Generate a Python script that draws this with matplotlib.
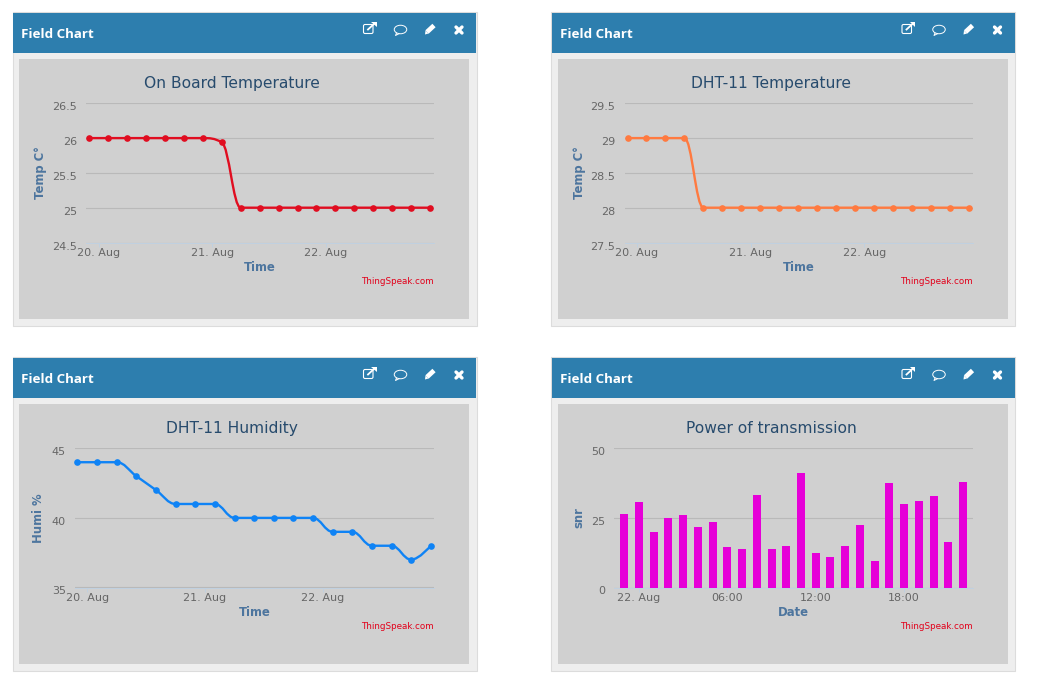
import matplotlib
matplotlib.use('Agg')
import matplotlib.pyplot as plt
import matplotlib.patches as mpatches
from matplotlib.path import Path
from matplotlib.transforms import ScaledTranslation

W, H = 1041, 689
DPI = 100

C_HEADER = '#2d7eae'
C_CARD = '#eeeeee'
C_BORDER = '#dcdcdc'
C_PLOT = '#d0d0d0'
C_GRID = '#b9b9b9'
C_AXIS = '#c0d0e0'
C_TICK = '#666666'
C_LABEL = '#4d759e'
C_TITLE = '#274b6d'
C_CREDIT = '#e2001a'

# hours counted from 20 Aug 00:00
sensor_hours = [-2, 2, 6, 10, 14, 18, 22, 26, 30, 34, 38, 42, 46, 50, 54, 58, 62, 66, 70]
day_ticks = [0, 24, 48]
day_labels = ['20. Aug', '21. Aug', '22. Aug']

board_temp = [26, 26, 26, 26, 26, 26, 26, 25.94, 25, 25, 25, 25, 25, 25, 25, 25, 25, 25, 25]
board_yticks = [24.5, 25, 25.5, 26, 26.5]
board_ylabels = ['24.5', '25', '25.5', '26', '26.5']

dht_temp = [29, 29, 29, 29, 28, 28, 28, 28, 28, 28, 28, 28, 28, 28, 28, 28, 28, 28, 28]
dht_yticks = [27.5, 28, 28.5, 29, 29.5]
dht_ylabels = ['27.5', '28', '28.5', '29', '29.5']

humidity = [44, 44, 44, 43, 42, 41, 41, 41, 40, 40, 40, 40, 40, 39, 39, 38, 38, 37, 38]
humi_yticks = [35, 40, 45]
humi_ylabels = ['35', '40', '45']

# hours counted from 22 Aug 00:00
snr_hours = [-1, 0, 1, 2, 3, 4, 5, 6, 7, 8, 9, 10, 11, 12, 13, 14, 15, 16, 17, 18, 19, 20, 21, 22]
snr = [26.3, 30.6, 19.8, 24.9, 26.0, 21.6, 23.4, 14.4, 13.7, 33.2, 13.7, 14.8,
       41.1, 12.3, 10.8, 14.8, 22.4, 9.4, 37.5, 29.9, 31.0, 32.8, 16.2, 37.9]
snr_ticks = [0, 6, 12, 18]
snr_tick_labels = ['22. Aug', '06:00', '12:00', '18:00']
snr_yticks = [0, 25, 50]
snr_ylabels = ['0', '25', '50']


def spline_path(xs, ys):
    """Same bezier smoothing as a Highcharts spline series."""
    n = len(xs)
    left = [(x, y) for x, y in zip(xs, ys)]
    right = [(x, y) for x, y in zip(xs, ys)]
    for i in range(1, n - 1):
        x, y = xs[i], ys[i]
        lx, ly = xs[i - 1], ys[i - 1]
        nx, ny = xs[i + 1], ys[i + 1]
        lcx, lcy = (1.5 * x + lx) / 2.5, (1.5 * y + ly) / 2.5
        rcx, rcy = (1.5 * x + nx) / 2.5, (1.5 * y + ny) / 2.5
        corr = (rcy - lcy) * (rcx - x) / (rcx - lcx) + y - rcy
        lcy += corr
        rcy += corr
        if lcy > ly and lcy > y:
            lcy = max(ly, y)
            rcy = 2 * y - lcy
        elif lcy < ly and lcy < y:
            lcy = min(ly, y)
            rcy = 2 * y - lcy
        if rcy > ny and rcy > y:
            rcy = max(ny, y)
            lcy = 2 * y - rcy
        elif rcy < ny and rcy < y:
            rcy = min(ny, y)
            lcy = 2 * y - rcy
        left[i] = (lcx, lcy)
        right[i] = (rcx, rcy)
    verts = [(xs[0], ys[0])]
    codes = [Path.MOVETO]
    for i in range(1, n):
        verts += [right[i - 1], left[i], (xs[i], ys[i])]
        codes += [Path.CURVE4] * 3
    return Path(verts, codes)


def draw_icons(bg, dx, dy):
    # external link
    bg.add_patch(mpatches.FancyBboxPatch((363.5 + dx, 24.5 + dy), 9.5, 9, boxstyle='round,pad=0,rounding_size=1.5',
                                         fc='none', ec='white', lw=0.8))
    bg.plot([368 + dx, 374.5 + dx], [29.5 + dy, 23.5 + dy], color='white', lw=1.3)
    bg.add_patch(mpatches.Polygon([(371 + dx, 22 + dy), (376.5 + dx, 22 + dy), (376.5 + dx, 27 + dy)], fc='white', ec='none'))
    # comment
    bg.add_patch(mpatches.Ellipse((400.5 + dx, 29.5 + dy), 12.5, 8.5, fc='none', ec='white', lw=0.7))
    bg.plot([396.5 + dx, 395.5 + dx, 399 + dx], [33 + dy, 35.5 + dy, 33.7 + dy], color='white', lw=0.7)
    # pencil
    bg.plot([427 + dx, 434 + dx], [32 + dy, 25.5 + dy], color='white', lw=3.4, solid_capstyle='butt')
    bg.add_patch(mpatches.Polygon([(425.5 + dx, 30.5 + dy), (428.5 + dx, 33.5 + dy), (425 + dx, 34.5 + dy)], fc='white', ec='none'))
    # close
    bg.plot([456 + dx, 462 + dx], [27 + dy, 33 + dy], color='white', lw=2.4, solid_capstyle='round')
    bg.plot([456 + dx, 462 + dx], [33 + dy, 27 + dy], color='white', lw=2.4, solid_capstyle='round')


def draw_card(bg, dx, dy):
    bg.add_patch(mpatches.Rectangle((12.5 + dx, 12 + dy), 464, 313.5, fc=C_CARD, ec=C_BORDER, lw=0.8))
    bg.add_patch(mpatches.Rectangle((13 + dx, 13 + dy), 463, 40, fc=C_HEADER, ec='none'))
    bg.add_patch(mpatches.Rectangle((19 + dx, 59 + dy), 450, 260, fc=C_PLOT, ec='none'))
    bg.text(21 + dx, 34.5 + dy, 'Field Chart', color='white', fontsize=9.6, fontweight='bold',
            family='Open Sans', ha='left', va='center')
    draw_icons(bg, dx, dy)


def make_axes(fig, box, xlim, ylim, title, title_cx, xlabel, ylabel, ylabel_x,
              xticks, xticklabels, yticks, yticklabels):
    left, top, right, bottom = box
    ax = fig.add_axes([left / W, 1 - bottom / H, (right - left) / W, (bottom - top) / H])
    ax.patch.set_alpha(0)
    ax.set_xlim(*xlim)
    ax.set_ylim(*ylim)
    for name in ('top', 'left', 'right'):
        ax.spines[name].set_visible(False)
    ax.spines['bottom'].set_color(C_AXIS)
    ax.spines['bottom'].set_linewidth(0.72)
    ax.set_axisbelow(True)
    ax.yaxis.grid(True, color=C_GRID, lw=0.8)
    ax.set_xticks(xticks)
    ax.set_xticklabels(xticklabels)
    ax.set_yticks(yticks)
    ax.set_yticklabels(yticklabels)
    ax.tick_params(axis='x', length=3, width=0.7, color=C_AXIS, labelcolor=C_TICK, labelsize=8, pad=0.8)
    ax.tick_params(axis='y', length=0, labelcolor=C_TICK, labelsize=8, pad=6.5)
    shift = ScaledTranslation(0, -3 / DPI, fig.dpi_scale_trans)
    for lab in ax.get_yticklabels():
        lab.set_transform(lab.get_transform() + shift)

    w, h = right - left, bottom - top
    ax.set_title(title, x=(title_cx - left) / w, y=1 + 20 / h, pad=0,
                 color=C_TITLE, fontsize=11.2, va='center', ha='center')
    ax.set_xlabel(xlabel, color=C_LABEL, fontsize=8.4, fontweight='bold', va='center')
    ax.xaxis.set_label_coords(0.5, -25 / h)
    ax.set_ylabel(ylabel, color=C_LABEL, fontsize=8.4, fontweight='bold', va='center')
    ax.yaxis.set_label_coords((ylabel_x - left) / w, 0.5)
    ax.text(1, -39 / h, 'ThingSpeak.com', transform=ax.transAxes, color=C_CREDIT,
            fontsize=6.3, ha='right', va='center')
    return ax


def draw_spline(ax, xs, ys, color):
    ax.add_patch(mpatches.PathPatch(spline_path(xs, ys), fc='none', ec=color, lw=1.7, zorder=3))
    ax.plot(xs, ys, ls='none', marker='o', ms=4.8, mfc=color, mec=color, mew=0, zorder=4, clip_on=False)


fig = plt.figure(figsize=(W / DPI, H / DPI), dpi=DPI, facecolor='white')
bg = fig.add_axes([0, 0, 1, 1])
bg.set_xlim(0, W)
bg.set_ylim(H, 0)
bg.axis('off')

draw_card(bg, 0, 0)
draw_card(bg, 538.5, 0)
draw_card(bg, 0, 345)
draw_card(bg, 538.5, 345)

ax1 = make_axes(fig, (86, 103.3, 434, 242.5), (-2.64, 70.8), (24.5, 26.5),
                'On Board Temperature', 232, 'Time', 'Temp C°', 40,
                day_ticks, day_labels, board_yticks, board_ylabels)
draw_spline(ax1, sensor_hours, board_temp, '#e00d20')

ax2 = make_axes(fig, (624.5, 103.3, 972.5, 242.5), (-2.64, 70.8), (27.5, 29.5),
                'DHT-11 Temperature', 771, 'Time', 'Temp C°', 579,
                day_ticks, day_labels, dht_yticks, dht_ylabels)
draw_spline(ax2, sensor_hours, dht_temp, '#ff7a40')

ax3 = make_axes(fig, (75, 448.3, 434, 587.5), (-2.5, 70.65), (35, 45),
                'DHT-11 Humidity', 232, 'Time', 'Humi %', 39,
                day_ticks, day_labels, humi_yticks, humi_ylabels)
draw_spline(ax3, sensor_hours, humidity, '#0f83f5')

ax4 = make_axes(fig, (614, 448.3, 973, 587.5), (-1.7, 22.68), (0, 50),
                'Power of transmission', 771, 'Date', 'snr', 579,
                snr_ticks, snr_tick_labels, snr_yticks, snr_ylabels)
ax4.bar(snr_hours, snr, width=0.543, color='#e600d8', zorder=3)

fig.savefig('out.png', dpi=DPI, facecolor='white')
